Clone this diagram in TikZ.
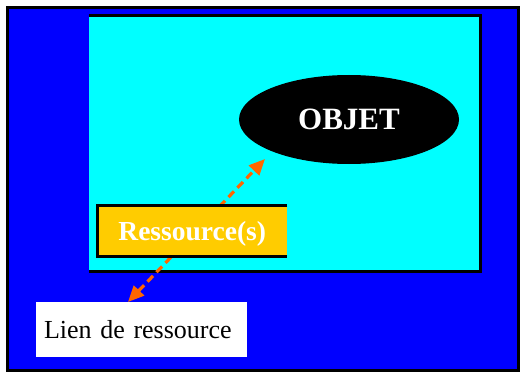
\documentclass[tikz,border=0pt]{standalone}
\usepackage{fontspec}
\setmainfont{Liberation Serif}
\usetikzlibrary{shapes.geometric,arrows.meta,positioning,calc}
\definecolor{fondbleu}{HTML}{0000FF}
\definecolor{fondcyan}{HTML}{00FFFF}
\definecolor{jaune}{HTML}{FFCC00}
\definecolor{orangelien}{HTML}{FF6600}

\begin{document}
\begin{tikzpicture}[x=1pt, y=-1pt,
  objet/.style={ellipse, fill=black, minimum width=220pt, minimum height=89pt, inner sep=0pt, text height=21pt, text depth=0pt, text=white, font=\fontsize{31}{31}\selectfont\bfseries},
  ressbox/.style={rectangle, fill=jaune, minimum width=189.5pt, minimum height=51pt, inner sep=0pt, outer sep=0pt, text height=19pt, text depth=0pt, text=white, font=\fontsize{27.5}{27.5}\selectfont\bfseries},
  lienbox/.style={rectangle, fill=white, minimum width=211pt, minimum height=55pt, inner xsep=8pt, inner ysep=0pt, text width=195pt, align=left, font=\fontsize{26}{26}\selectfont},
  link/.style={{Triangle[length=16pt,width=14pt]}-{Triangle[length=16pt,width=14pt]}, line width=3.2pt, dash pattern=on 8pt off 5pt, orangelien},
  bord/.style={line width=3pt, black}
]
  \useasboundingbox (0,0) rectangle (526,374);
  % cadres
  \draw[bord, fill=fondbleu] (7.5,7.5) rectangle (518.5,370.5);
  \fill[fondcyan] (89,14) rectangle (480.5,271.5);
  \draw[bord] (89,15.5) -- (480.5,15.5) -- (480.5,271.5) -- (89,271.5);

  % lien
  \coordinate (bas) at (128,302);
  \coordinate (haut) at (265,159);
  \draw[link] (bas) -- (haut);

  % noeuds
  \node[objet] (obj) at (349,119.5) {OBJET};
  \node[ressbox] (ress) at (192.25,231) {Ressource(s)};
  \draw[bord] (ress.north east) -- (ress.north west) -- (ress.south west) -- (ress.south east);
  \node[lienbox] (lien) at (141.5,329.5) {Lien de ressource};
\end{tikzpicture}
\end{document}
